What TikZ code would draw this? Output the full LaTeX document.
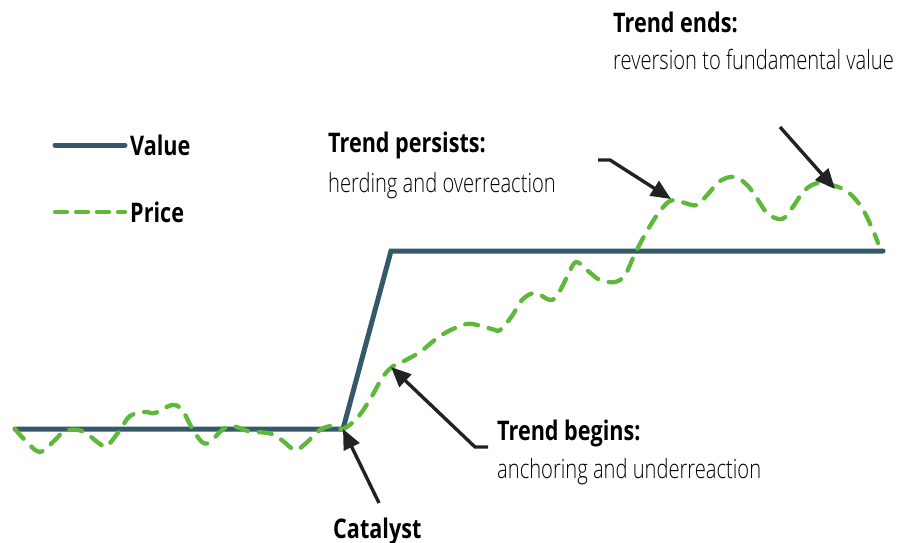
\documentclass[tikz,border=0pt]{standalone}
\usepackage{fontspec}
\setmainfont{Open Sans}[FakeStretch=0.8]
\IfFontExistsTF{Open Sans Light}
  {\newfontfamily\lightfont{Open Sans Light}[FakeStretch=0.76]}
  {\newfontfamily\lightfont{Open Sans}[FakeStretch=0.74]}
\usetikzlibrary{arrows.meta}

\definecolor{valuecol}{HTML}{36596A}
\definecolor{pricecol}{HTML}{5DB83B}
\definecolor{arrowcol}{HTML}{222222}

\begin{document}
\begin{tikzpicture}[x=1pt,y=-1pt]
		\tikzset{valueline/.style={draw=valuecol,line width=5pt,line cap=round,line join=miter}}
		\tikzset{priceline/.style={draw=pricecol,line width=4.3pt,line cap=round,dash pattern=on 13pt off 11pt}}
		\tikzset{callout/.style={draw=arrowcol,line width=3.4pt,-{Triangle[length=20pt,width=17pt]}}}
		\tikzset{headtxt/.style={anchor=base west,inner sep=0pt,font=\fontsize{27}{30}\selectfont\bfseries}}
		\tikzset{subtxt/.style={anchor=base west,inner sep=0pt,font=\fontsize{26.5}{30}\lightfont}}
		\useasboundingbox (0,0) rectangle (898,543);

% legend
\coordinate (lv1) at (55,145); \coordinate (lv2) at (125,145);
\coordinate (lp1) at (55,212); \coordinate (lp2) at (125,212);
\draw[valueline] (lv1) -- (lv2);
\draw[priceline,dash pattern=on 12pt off 9pt] (lp1) -- (lp2);
\node[headtxt] (valuelbl) at (130,155) {Value};
\node[headtxt] (pricelbl) at (130,222) {Price};

% fundamental value
\coordinate (v0) at (15,429);
\coordinate (cat) at (343,429);
\coordinate (jump) at (391,251);
\coordinate (vend) at (883,251);
\draw[valueline] (v0) -- (cat) -- (jump) -- (vend);

% market price
\draw[priceline] plot[smooth,tension=0.6] coordinates {
(15,429) (25,440) (40,452) (55,440) (65,431) (82,431) (100,444) (107,446)
(120,430) (130,416) (145,412) (155,413) (172,405) (182,410) (192,428) (202,442)
(210,442) (222,430) (232,426) (248,431) (258,432) (272,434) (283,441) (295,450)
(305,444) (320,430) (332,426) (343,429) (358,417) (372,396) (382,378) (392,367)
(402,362) (420,352) (440,336) (460,326) (472,324) (492,329) (500,330) (512,316)
(522,300) (535,293) (550,300) (558,294) (568,275) (576,262) (588,271) (600,280)
(615,282) (625,275) (633,258) (642,240) (655,218) (666,204) (674,200) (685,203)
(697,205) (708,194) (720,181) (735,177) (748,186) (758,200) (768,214) (782,219)
(792,208) (805,190) (818,183) (832,185) (848,192) (862,208) (872,228) (878,243)};

% labels
\node[headtxt] (catlbl) at (333,538) {Catalyst};
\node[headtxt] (beginlbl) at (497,440) {Trend begins:};
\node[subtxt] (beginsub) at (497,478) {anchoring and underreaction};
\node[headtxt] (persistlbl) at (328,153) {Trend persists:};
\node[subtxt] (persistsub) at (328,192) {herding and overreaction};
\node[headtxt] (endlbl) at (613,33) {Trend ends:};
\node[subtxt] (endsub) at (613,70) {reversion to fundamental value};

% callouts
\coordinate (cattail) at (379,503);
\coordinate (begtail) at (488,447);
\coordinate (begbend) at (475,447);
\coordinate (begtip) at (391,367);
\coordinate (pertail) at (598,160);
\coordinate (perbend) at (610,160);
\coordinate (pertip) at (671,199);
\coordinate (endtail) at (780,127);
\coordinate (endtip) at (835,189);
\draw[callout] (cattail) -- (cat);
\draw[callout] (begtail) -- (begbend) -- (begtip);
\draw[callout] (pertail) -- (perbend) -- (pertip);
\draw[callout] (endtail) -- (endtip);
\end{tikzpicture}
\end{document}
